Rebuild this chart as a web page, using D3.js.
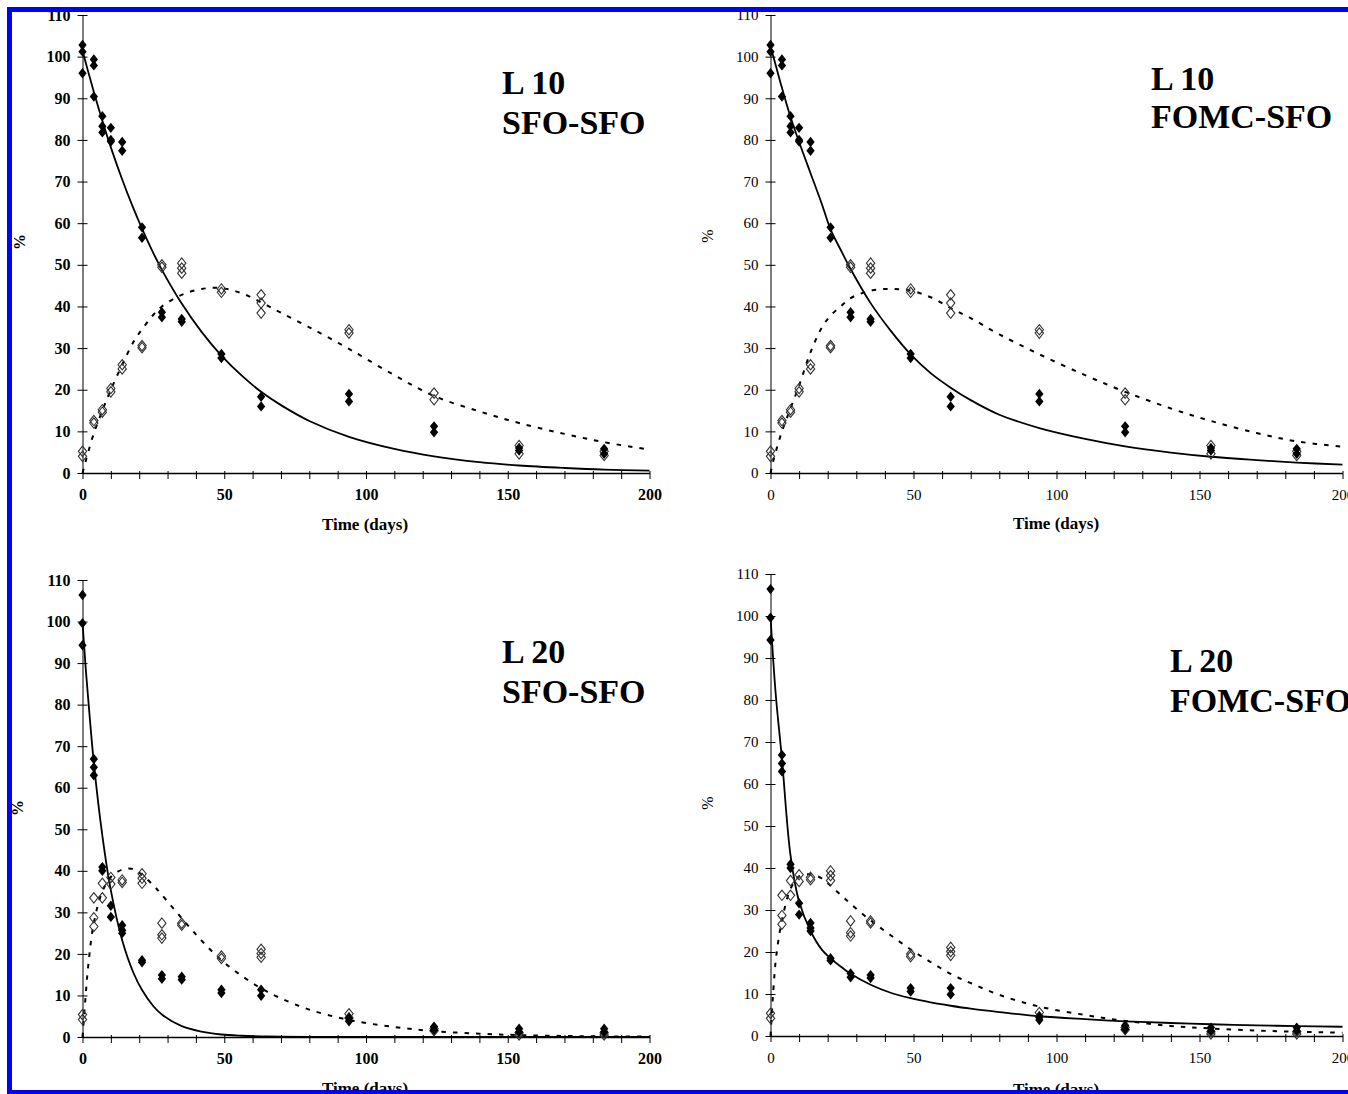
<!DOCTYPE html>
<html>
<head>
<meta charset="utf-8">
<script src="https://cdnjs.cloudflare.com/ajax/libs/d3/7.8.5/d3.min.js"></script>
<style>
body { margin: 0; background: #fff; }
svg { display: block; font-family: "Liberation Serif", "Times New Roman", serif; }
</style>
</head>
<body>
<script>
// sampling days of the soil study
const sampleDays = [0, 4, 7, 10, 14, 21, 28, 35, 49, 63, 94, 124, 154, 184];

// measured replicates (% of applied), one inner array per sampling day
const l10Parent = [[102.8, 101.2, 96], [99.3, 97.9, 90.4], [85.7, 83.3, 81.8], [82.9, 80, 79.6], [79.5, 77.4],
  [59, 56.5], [38.6, 37.4], [37, 36.3], [28.6, 27.6], [18.3, 16], [19, 17.2], [11.2, 9.8], [6, 5.4], [5.8, 4.6]];
const l10Metab = [[5.2, 4], [12.6, 12], [15.2, 14.6], [20.3, 19.5], [26, 25], [30.6, 30.1], [50, 49.4],
  [50.4, 49.2, 48], [44.2, 43.4], [42.8, 40.8, 38.4], [34.4, 33.6], [19.2, 17.6], [6.6, 4.6], [5.2, 4.2]];
const l20Parent = [[106.4, 99.6, 94.3], [66.9, 64.9, 63], [40.9, 40], [31.6, 28.9], [26.9, 25.7, 25], [18.5, 18],
  [14.9, 14], [14.5, 13.8], [11.4, 10.6], [11.4, 9.9], [4.6, 3.8], [2.5, 1.6], [2, 1.2], [2, 1.2]];
const l20Metab = [[5.4, 4.2], [33.5, 28.7, 26.6], [37, 33.5], [38.4, 36.8], [37.8, 37.2], [39.3, 38.2, 37],
  [27.4, 24.6, 23.8], [27.4, 26.9], [19.5, 18.9], [21.1, 20.1, 19.2], [5.6, 4.6], [2, 1.5], [1, 0.5], [1, 0.5]];

// fitted curves
const curveDays = [0, 1, 2, 4, 7, 10, 14, 18, 21, 25, 28, 35, 42, 49, 56, 63, 70, 80, 94, 110, 124, 140, 154, 170, 184, 200];
const l10SfoParent = [101.5, 98.9, 96.4, 91.5, 84.6, 78.2, 70.5, 63.5, 58.7, 52.8, 48.8, 40.7, 33.9, 28.2, 23.5, 19.5,
  16.3, 12.5, 8.7, 5.8, 4.0, 2.6, 1.8, 1.2, 0.8, 0.55];
const l10SfoMetab = [0, 2.5, 5, 9.5, 15, 20, 26, 31.5, 34.5, 38, 40, 42.8, 44.2, 44.4, 43.2, 41, 38.5, 35, 29.8, 23.5,
  18.5, 14.8, 12, 9.4, 7.4, 5.6];
const l10FomcParent = [102.5, 100, 97.5, 92.5, 85.5, 79.5, 72, 64.5, 58.5, 53, 49, 40.8, 34.2, 28.5, 24, 20.5, 17.5,
  14, 10.8, 8.2, 6.4, 4.9, 3.9, 3.1, 2.5, 2.0];
const l10FomcMetab = [0, 3, 5.5, 10, 15.5, 21, 29, 35, 37.8, 40.3, 42, 43.8, 44.2, 43.8, 42.2, 39.6, 37.2, 33.3, 28.5,
  23.5, 19.5, 15.5, 12.5, 9.6, 7.6, 6.3];
const l20SfoParent = [100, 90, 81.5, 66, 48.5, 35.3, 23.3, 15.4, 11.3, 7.4, 5.4, 2.6, 1.3, 0.6, 0.3, 0.15, 0.07, 0,
  0, 0, 0, 0, 0, 0, 0, 0];
const l20SfoMetab = [0, 9, 17, 27.5, 35, 38.5, 40.3, 40.4, 39, 36.5, 34.2, 28.6, 23.2, 18.5, 14.8, 11.7, 9.3, 6.6, 4.1,
  2.4, 1.4, 0.8, 0.45, 0.25, 0.15, 0.1];
const l20FomcParent = [100, 89, 80, 66, 43, 32, 25, 20.5, 18.5, 16.3, 14.8, 12.2, 10.3, 9, 8, 7.2, 6.5, 5.7, 4.7, 4,
  3.5, 3.1, 2.8, 2.55, 2.35, 2.2];
const l20FomcMetab = [0, 11, 19, 27.5, 35, 38, 38.5, 37.5, 35.8, 33.3, 31.5, 27.5, 24, 20.6, 17.6, 14.8, 12.6, 9.8, 7,
  5, 3.6, 2.4, 1.8, 1.3, 1, 0.8];

const yTickValues = [0, 10, 20, 30, 40, 50, 60, 70, 80, 90, 100, 110];
const xTickLabels = [0, 50, 100, 150, 200];

const panels = [
  {name: ['L 10', 'SFO-SFO'], parent: l10Parent, metab: l10Metab, fitP: l10SfoParent, fitM: l10SfoMetab,
   left: 82.5, right: 649.5, top: 15, bottom: 473, bold: true, titleX: 502, titleY: [94, 134],
   pctX: 19, pctY: 242, xTitleX: 365, xTitleY: 530},
  {name: ['L 10', 'FOMC-SFO'], parent: l10Parent, metab: l10Metab, fitP: l10FomcParent, fitM: l10FomcMetab,
   left: 770.5, right: 1342.5, top: 15, bottom: 473, bold: false, titleX: 1151, titleY: [90, 128],
   pctX: 707, pctY: 236, xTitleX: 1056, xTitleY: 529},
  {name: ['L 20', 'SFO-SFO'], parent: l20Parent, metab: l20Metab, fitP: l20SfoParent, fitM: l20SfoMetab,
   left: 82.5, right: 649.5, top: 580, bottom: 1037, bold: true, titleX: 502, titleY: [663, 703],
   pctX: 17, pctY: 808, xTitleX: 365, xTitleY: 1094},
  {name: ['L 20', 'FOMC-SFO'], parent: l20Parent, metab: l20Metab, fitP: l20FomcParent, fitM: l20FomcMetab,
   left: 770.5, right: 1342.5, top: 574, bottom: 1036, bold: false, titleX: 1170, titleY: [672, 712],
   pctX: 707, pctY: 803, xTitleX: 1056, xTitleY: 1095}
];

const svg = d3.select('body').append('svg')
  .attr('width', 1348)
  .attr('height', 1094);

svg.append('rect').attr('width', 1348).attr('height', 1094).attr('fill', '#fff');

// diamond marker, a bit wider than d3's own
const diamond = {
  draw(ctx, size) {
    const h = Math.sqrt(size) * 0.62, w = h * 0.8;
    ctx.moveTo(0, -h); ctx.lineTo(w, 0); ctx.lineTo(0, h); ctx.lineTo(-w, 0); ctx.closePath();
  }
};

function flatten(values) {
  let pts = [];
  for (let i = 0; i < sampleDays.length; i++) {
    values[i].forEach(v => pts.push({t: sampleDays[i], v: v}));
  }
  return pts;
}

panels.forEach(function(p) {
  const x = d3.scaleLinear().domain([0, 200]).range([p.left, p.right]);
  const y = d3.scaleLinear().domain([0, 110]).range([p.bottom, p.top]);
  const g = svg.append('g');
  const weight = p.bold ? 'bold' : 'normal';
  const fs = p.bold ? 16 : 15;

  // y axis, ticks cross the line
  const gy = g.append('g')
    .attr('transform', `translate(${p.left},0)`)
    .call(d3.axisLeft(y).tickValues(yTickValues).tickSizeInner(5).tickSizeOuter(0).tickPadding(7));
  gy.selectAll('.tick line').attr('x1', 5);
  gy.selectAll('text').attr('font-size', fs).attr('font-weight', weight)
    .attr('font-family', '"Liberation Serif", serif').attr('fill', '#000');

  // x axis, minor tick every 10 days, label every 50
  const gx = g.append('g')
    .attr('transform', `translate(0,${p.bottom})`)
    .call(d3.axisBottom(x).tickValues(d3.range(0, 201, 10)).tickSizeInner(6).tickSizeOuter(0)
      .tickFormat(d => xTickLabels.includes(d) ? d : ''));
  gx.selectAll('.tick line').attr('y1', -2);
  gx.selectAll('text').attr('y', 27).attr('dy', 0).attr('font-size', fs).attr('font-weight', weight)
    .attr('font-family', '"Liberation Serif", serif').attr('fill', '#000');
  gx.select('.domain').attr('stroke-width', 1.6);

  // axis titles
  g.append('text')
    .attr('x', p.xTitleX).attr('y', p.xTitleY)
    .attr('text-anchor', 'middle')
    .attr('font-size', 17).attr('font-weight', 'bold')
    .text('Time (days)');
  g.append('text')
    .attr('transform', `translate(${p.pctX},${p.pctY}) rotate(-90)`)
    .attr('text-anchor', 'middle').attr('dy', '0.35em')
    .attr('font-size', 16).attr('font-weight', weight)
    .text('%');

  // panel label
  p.name.forEach((s, i) => {
    g.append('text')
      .attr('x', p.titleX).attr('y', p.titleY[i])
      .attr('font-size', 34).attr('font-weight', 'bold')
      .text(s);
  });

  // fitted lines
  const line = d3.line()
    .x((d, i) => x(curveDays[i]))
    .y(d => y(Math.max(0, d)))
    .curve(d3.curveCatmullRom.alpha(0.5));

  g.append('path').datum(p.fitM)
    .attr('d', line)
    .attr('fill', 'none').attr('stroke', '#000')
    .attr('stroke-width', 2).attr('stroke-dasharray', '4.5,7');

  g.append('path').datum(p.fitP)
    .attr('d', line)
    .attr('fill', 'none').attr('stroke', '#000')
    .attr('stroke-width', 1.8);

  // measured points
  const sym = d3.symbol().type(diamond).size(70);
  g.selectAll('.metab').data(flatten(p.metab)).enter()
    .append('path').classed('metab', true)
    .attr('transform', d => `translate(${x(d.t)},${y(d.v)})`)
    .attr('d', sym)
    .attr('fill', 'none').attr('stroke', '#333').attr('stroke-width', 1.1);

  g.selectAll('.parent').data(flatten(p.parent)).enter()
    .append('path').classed('parent', true)
    .attr('transform', d => `translate(${x(d.t)},${y(d.v)})`)
    .attr('d', sym)
    .attr('fill', '#000');
});

// blue frame of the original figure
svg.append('rect').attr('x', 7).attr('y', 7).attr('width', 1341).attr('height', 5).attr('fill', '#0000ff');
svg.append('rect').attr('x', 7).attr('y', 7).attr('width', 5).attr('height', 1087).attr('fill', '#0000ff');
svg.append('rect').attr('x', 7).attr('y', 1090).attr('width', 1341).attr('height', 5).attr('fill', '#0000ff');
</script>
</body>
</html>
